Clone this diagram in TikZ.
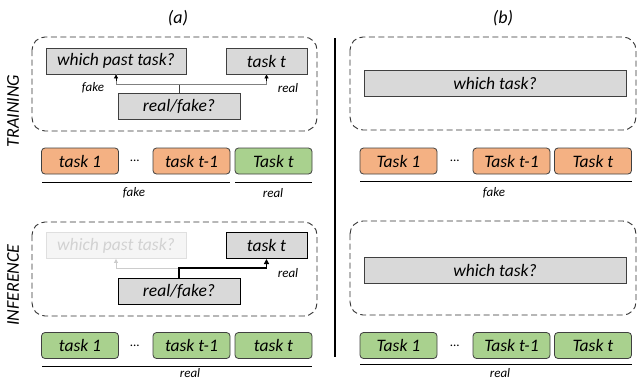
\documentclass[tikz,border=0pt]{standalone}
\usepackage{fontspec}
\setmainfont{Carlito}
\usetikzlibrary{arrows.meta}
\definecolor{boxgray}{HTML}{D9D9D9}
\definecolor{taskorange}{HTML}{F4B183}
\definecolor{taskgreen}{HTML}{A9D18E}
\definecolor{edgegray}{HTML}{404040}
\tikzset{
  head/.style={black,line width=0.8pt,-{Triangle[length=4pt,width=4pt]}},
  qbox/.style={draw=edgegray,line width=0.8pt,fill=boxgray,minimum height=26pt,inner sep=0pt,
    font=\fontsize{17.5}{20}\selectfont\itshape},
  taskbox/.style={qbox,rounded corners=3.5pt,minimum width=77pt},
  frame/.style={dash pattern=on 6pt off 3.5pt,draw=edgegray!80!black,line width=0.9pt,rounded corners=13pt},
  tag/.style={font=\fontsize{13}{15}\selectfont\itshape},
  side/.style={font=\fontsize{18}{20}\selectfont\itshape,rotate=90}
}
\begin{document}
\begin{tikzpicture}[x=1pt,y=-1pt]
  \useasboundingbox (0,0) rectangle (637,381);
  % (a)
  \node[side] (ltrain) at (13,111) {TRAINING};
  \node[side] (linfer) at (13,285) {INFERENCE};
  \node[side,rotate=-90] (capa) at (178,18) {(a)};
  \draw[frame] (32,37) rectangle (317,131);
  \node[qbox,minimum width=140pt] (past1) at (116,61) {which past task?};
  \node[qbox,minimum width=81pt] (cur1) at (266.5,61) {task t};
  \node[qbox,minimum width=122pt] (rf1) at (179,106.5) {real/fake?};
  \coordinate (j1) at (179,84);
  \draw[edgegray,line width=0.8pt] (rf1.north) -- (j1);
  \draw[gray,line width=0.8pt] (j1) -| (past1.south);
  \draw[gray,line width=0.8pt] (j1) -| (cur1.south);
  \draw[head] (past1.south |- j1) ++(0,-3) -- (past1.south);
  \draw[head] (cur1.south |- j1) ++(0,-3) -- (cur1.south);
  \node[tag] (fk1) at (93,88) {fake};
  \node[tag] (rl1) at (288,88) {real};
  \node[taskbox,fill=taskorange] (ta1) at (80,161) {task 1};
  \node[tag] (da1) at (135,161) {...};
  \node[taskbox,fill=taskorange] (ta2) at (191.5,161) {task t-1};
  \node[taskbox,fill=taskgreen] (ta3) at (273.5,161) {Task t};
  \draw[line width=0.8pt] (42,182) -- (230,182);
  \draw[line width=0.8pt] (235,182) -- (312,182);
  \node[tag] (fk2) at (134,193) {fake};
  \node[tag] (rl2) at (273,193) {real};
  \draw[frame] (32,222) rectangle (317,316);
  \node[qbox,minimum width=140pt,draw=gray!25,fill=gray!8,text=gray!35] (past2) at (116,245.5) {which past task?};
  \node[qbox,minimum width=81pt,draw=black,line width=1pt] (cur2) at (266.5,245.5) {task t};
  \node[qbox,minimum width=122pt,draw=black,line width=1pt] (rf2) at (179,291) {real/fake?};
  \coordinate (j2) at (179,268);
  \draw[gray!40,line width=0.8pt,-{Triangle[length=4pt,width=4pt]}] (j2) -| (past2.south);
  \draw[line width=1.6pt,-{Triangle[length=5pt,width=5pt]}] (rf2.north) -- (j2) -| (cur2.south);
  \node[tag] (rl3) at (288,273) {real};
  \node[taskbox,fill=taskgreen] (tb1) at (80,345.5) {task 1};
  \node[tag] (db1) at (135,345.5) {...};
  \node[taskbox,fill=taskgreen] (tb2) at (191.5,345.5) {task t-1};
  \node[taskbox,fill=taskgreen] (tb3) at (273.5,345.5) {task t};
  \draw[line width=0.8pt] (42,366) -- (312,366);
  \node[tag] (rl4) at (190,373.5) {real};
  % (b)
  \node[side,rotate=-90] (capb) at (503,18) {(b)};
  \draw[line width=1.5pt] (335,38) -- (335,357);
  \draw[frame] (350,37) rectangle (636,130);
  \node[qbox,minimum width=262pt] (wt1) at (495,83.5) {which task?};
  \node[taskbox,fill=taskorange] (tc1) at (398.5,161) {Task 1};
  \node[tag] (dc1) at (455,161) {...};
  \node[taskbox,fill=taskorange] (tc2) at (511.5,161) {Task t-1};
  \node[taskbox,fill=taskorange] (tc3) at (593,161) {Task t};
  \draw[line width=0.8pt] (360,181) -- (632,181);
  \node[tag] (fk3) at (494,193) {fake};
  \draw[frame] (350,221) rectangle (636,315);
  \node[qbox,minimum width=262pt] (wt2) at (495,270) {which task?};
  \node[taskbox,fill=taskgreen] (td1) at (398.5,345.5) {Task 1};
  \node[tag] (dd1) at (455,345.5) {...};
  \node[taskbox,fill=taskgreen] (td2) at (511.5,345.5) {Task t-1};
  \node[taskbox,fill=taskgreen] (td3) at (593,345.5) {Task t};
  \draw[line width=0.8pt] (360,364) -- (632,364);
  \node[tag] (rl5) at (500,373) {real};
\end{tikzpicture}
\end{document}
